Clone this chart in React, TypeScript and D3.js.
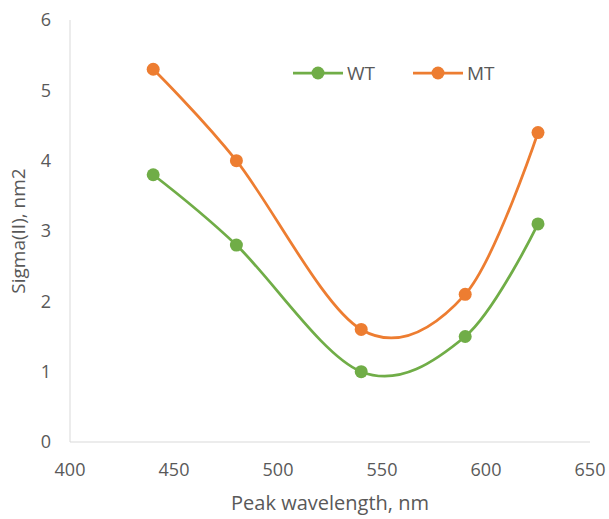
import React from "react";
import * as d3 from "d3";

const wavelengths = [440, 480, 540, 590, 625];
const wtValues = [3.8, 2.8, 1.0, 1.5, 3.1];
const mtValues = [5.3, 4.0, 1.6, 2.1, 4.4];
const xTicks = [400, 450, 500, 550, 600, 650];
const yTicks = [0, 1, 2, 3, 4, 5, 6];
const seriesNames = ["WT", "MT"];
const seriesColors = ["#70ad47", "#ed7d31"];

const W = 609;
const H = 519;
const FONT = "'Open Sans', 'Noto Sans', sans-serif";

export default function App() {
  const x = d3.scaleLinear().domain([400, 650]).range([70, 590]);
  const y = d3.scaleLinear().domain([0, 6]).range([442, 20]);
  const line = d3
    .line<[number, number]>()
    .x((d) => x(d[0]))
    .y((d) => y(d[1]))
    .curve(d3.curveCardinal.tension(0));

  const series = [wtValues, mtValues].map((vals, i) => ({
    name: seriesNames[i],
    color: seriesColors[i],
    pts: wavelengths.map((w, j) => [w, vals[j]] as [number, number]),
  }));

  const legendX = [293, 413];

  return (
    <svg
      width={W}
      height={H}
      style={{ position: "absolute", left: 0, top: 0, background: "#fff" }}
      fontFamily={FONT}
    >
      <rect x={0} y={0} width={W} height={H} fill="#fff" />
      <line x1={x(400)} x2={x(400)} y1={y(6)} y2={y(0)} stroke="#d9d9d9" strokeWidth={1} />
      <line x1={x(400)} x2={x(650)} y1={y(0)} y2={y(0)} stroke="#d9d9d9" strokeWidth={1} />
      {yTicks.map((t) => (
        <text key={"y" + t} x={51} y={y(t)} dy="0.35em" textAnchor="end" fontSize={18} fill="#595959">
          {t}
        </text>
      ))}
      {xTicks.map((t) => (
        <text key={"x" + t} x={x(t)} y={476} textAnchor="middle" fontSize={18} fill="#595959">
          {t}
        </text>
      ))}
      <text x={330} y={510} textAnchor="middle" fontSize={20} fill="#595959">
        Peak wavelength, nm
      </text>
      <text
        transform={`translate(25,231) rotate(-90)`}
        textAnchor="middle"
        fontSize={19}
        fill="#595959"
      >
        Sigma(II), nm2
      </text>
      {series.map((s) => (
        <g key={s.name}>
          <path d={line(s.pts) || ""} fill="none" stroke={s.color} strokeWidth={2.75} />
          {s.pts.map((p, j) => (
            <circle key={j} cx={x(p[0])} cy={y(p[1])} r={6.5} fill={s.color} />
          ))}
        </g>
      ))}
      {series.map((s, i) => (
        <g key={"lg" + s.name} transform={`translate(${legendX[i]},73)`}>
          <line x1={0} x2={50} y1={0} y2={0} stroke={s.color} strokeWidth={2.75} />
          <circle cx={25} cy={0} r={6.5} fill={s.color} />
          <text x={54} y={0} dy="0.35em" fontSize={19} fill="#595959">
            {s.name}
          </text>
        </g>
      ))}
    </svg>
  );
}
